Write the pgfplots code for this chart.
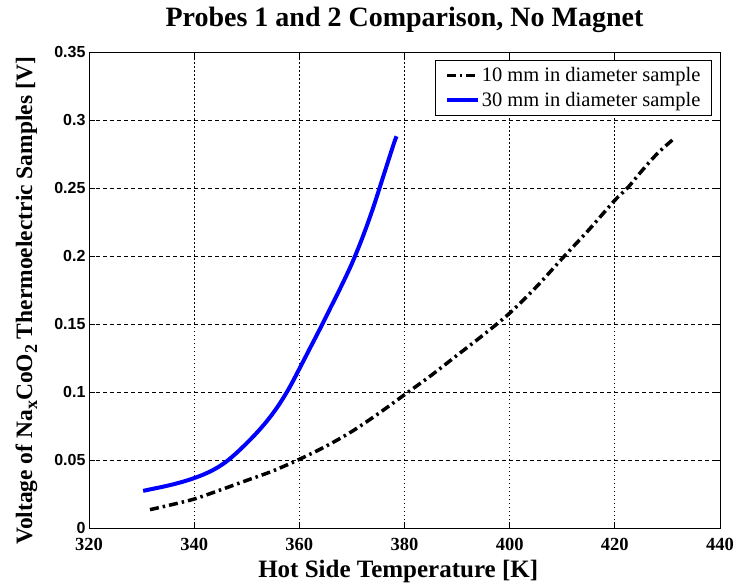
\documentclass[border=0pt]{standalone}
\usepackage{fontspec}
\setmainfont{Liberation Serif}
\newfontfamily\ticksans{Liberation Sans}
\usepackage{pgfplots}
\pgfplotsset{compat=1.18}
\begin{document}
\begin{tikzpicture}
\begin{axis}[
  at={(0pt,0pt)}, anchor=south west,
  scale only axis, width=631pt, height=476pt,
  xmin=320, xmax=440, ymin=0, ymax=0.35,
  xtick={320,340,360,380,400,420,440},
  ytick={0,0.05,0.1,0.15,0.2,0.25,0.3,0.35},
  tick align=inside, xtick pos=both, ytick pos=both,
  major tick length=6pt,
  grid=major,
  major x grid style={black, line width=0.7pt, dash pattern=on 1.5pt off 2.5pt},
  major y grid style={black, line width=0.7pt, dash pattern=on 4pt off 3pt},
  axis line style={black, line width=0.9pt},
  tick style={black, line width=0.9pt},
  /pgf/number format/assume math mode=true,
  xticklabel style={font=\fontsize{18.5}{18.5}\selectfont\bfseries, yshift=-7pt},
  yticklabel style={font=\fontsize{16}{16}\selectfont\ticksans\bfseries,
     /pgf/number format/fixed, /pgf/number format/precision=2},
  title={Probes 1 and 2 Comparison, No Magnet},
  title style={font=\fontsize{28}{28}\selectfont\bfseries,
     at={(axis description cs:0.5,1.042)}, anchor=base},
  xlabel={Hot Side Temperature [K]},
  xlabel style={font=\fontsize{25}{25}\selectfont\bfseries,
     at={(axis description cs:0.49,-0.105)}, anchor=base},
  ylabel={Voltage of Na\raisebox{-5pt}{\fontsize{18}{18}\selectfont x}CoO\raisebox{-5pt}{\fontsize{18}{18}\selectfont 2} Thermoelectric Samples [V]},
  ylabel style={font=\fontsize{23.5}{23.5}\selectfont\bfseries,
     at={(axis description cs:-0.0903,0.477)}, anchor=base},
  legend style={at={(0.987,0.983)}, anchor=north east, draw=black, line width=0.8pt, fill=white,
    font=\fontsize{20.5}{24}\selectfont, row sep=5pt, inner xsep=9pt, inner ysep=5pt,
    /tikz/every even column/.append style={column sep=6pt}},
  legend cell align=left,
  legend image code/.code={\draw[#1] (0pt,0pt) -- (31pt,0pt);},
]
\addplot[black, line width=3.5pt, dash pattern=on 9pt off 4pt on 2.5pt off 4pt, smooth] coordinates {
(331.6,0.0135) (335,0.0165) (340,0.0213) (345,0.028) (350,0.035) (355,0.042)
(360,0.0505) (365,0.060) (370,0.071) (375,0.084) (380,0.098) (385,0.112)
(390,0.127) (395,0.142) (400,0.158) (405,0.177) (410.3,0.1995) (415,0.219)
(420,0.241) (422.4,0.250) (425,0.262) (428,0.275) (431.3,0.2865)
};
\addlegendentry{10 mm in diameter sample}
\addplot[blue, line width=4pt, smooth] coordinates {
(330.3,0.0273) (332,0.0287) (334,0.0303) (336,0.0321) (338,0.0342) (340,0.0367)
(342,0.0397) (344,0.0435) (346,0.0485) (348,0.0550) (350,0.0624) (352,0.0704)
(354,0.0794) (356,0.0899) (358,0.1024) (360,0.1170) (362,0.1320) (364,0.1470)
(366,0.1625) (368,0.1780) (370,0.1945) (372,0.2135) (374,0.2350) (376,0.2590)
(378,0.2830) (378.5,0.2880)
};
\addlegendentry{30 mm in diameter sample}
\end{axis}
\pgfresetboundingbox
\path (-89pt,-56pt) rectangle (647pt,528pt);
\end{tikzpicture}
\end{document}
